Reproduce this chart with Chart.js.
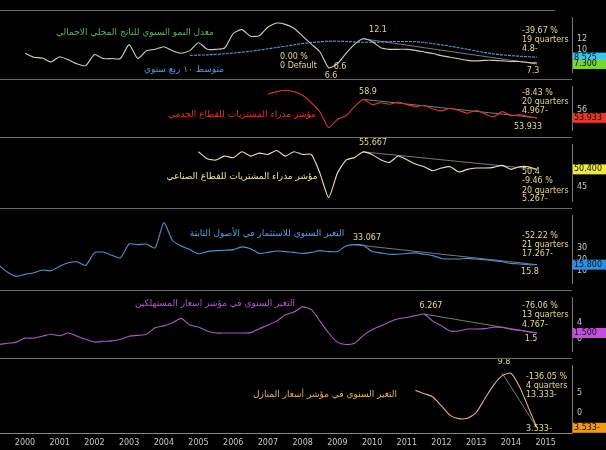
<!DOCTYPE html>
<html><head><meta charset="utf-8">
<script src="https://cdn.jsdelivr.net/npm/chart.js@4/dist/chart.umd.min.js"></script>
<style>
body{margin:0;background:#000;width:606px;height:450px;overflow:hidden;position:relative;font-family:"DejaVu Sans",sans-serif}
.p{position:absolute;left:0;width:606px}
.sep{position:absolute;left:0;width:572px;height:1px;background:#6a6a6a}
</style></head><body>
<div class="sep" style="top:10px;width:555px"></div>
<div class="sep" style="top:79px"></div>
<div class="sep" style="top:137px"></div>
<div class="sep" style="top:208px"></div>
<div class="sep" style="top:290px"></div>
<div class="sep" style="top:358px"></div>
<div class="p" style="top:11px;height:68px"><canvas id="c1"></canvas></div>
<div class="p" style="top:80px;height:57px"><canvas id="c2"></canvas></div>
<div class="p" style="top:138px;height:70px"><canvas id="c3"></canvas></div>
<div class="p" style="top:209px;height:81px"><canvas id="c4"></canvas></div>
<div class="p" style="top:291px;height:67px"><canvas id="c5"></canvas></div>
<div class="p" style="top:359px;height:91px"><canvas id="c6"></canvas></div>
<script>
// quarterly series, each with its first quarter (decimal year)
var years = [2000,2001,2002,2003,2004,2005,2006,2007,2008,2009,2010,2011,2012,2013,2014,2015];

var gdpStart = 2000.0;
var gdp = [9.35,8.6,8.45,7.7,8.7,8.1,7.35,7.0,9.1,8.35,8.35,8.35,11.0,8.35,9.85,10.1,10.6,9.85,9.35,9.85,
  11.35,10.1,10.1,10.35,13.1,13.85,12.6,12.7,14.35,15.1,14.85,14.1,12.6,11.1,9.6,6.6,
  7.35,9.35,11.1,12.1,11.6,10.4,10.1,10.1,10.1,9.9,9.6,9.3,8.9,8.6,8.3,8.0,7.9,8.0,8.0,7.9,7.8,7.8,7.6,7.5];
var gdpAvgStart = 2004.75;
var gdpAvg = [8.95,9.0,9.05,9.15,9.25,9.4,9.55,9.75,9.95,10.2,10.45,10.7,10.95,11.2,11.4,11.55,11.65,11.65,11.6,11.5,
  11.45,11.45,11.5,11.55,11.6,11.6,11.55,11.4,11.2,10.95,10.7,10.4,10.1,9.8,9.5,9.25,9.05,8.9,8.8,8.7,8.6];
var pmiSvcStart = 2007.0;
var pmiSvc = [60.3,61.0,61.3,61.0,60.0,58.0,55.5,51.3,53.5,54.5,57.0,58.9,57.5,58.0,57.6,58.2,57.5,57.0,57.3,56.3,
  55.8,56.5,55.9,55.2,55.9,55.0,54.2,55.6,54.5,54.8,54.3,53.933];
var pmiMfgStart = 2005.0;
var pmiMfg = [55.7,53.6,53.2,54.4,53.9,55.7,54.4,55.3,54.9,56.1,54.4,55.7,54.9,54.9,49.2,41.9,49.2,53.2,54.0,55.667,
  54.9,53.3,52.5,54.4,53.3,52.0,51.2,50.0,50.8,51.2,49.6,50.4,50.8,50.8,51.0,51.6,50.4,51.2,51.2,50.4];
var faiStart = 1999.25;
var fai = [15.2,9.3,5.7,7.4,8.8,11.2,10.5,14.5,17.4,18.3,15.2,26.0,26.7,24.0,21.7,33.6,33.1,33.6,30.2,52.1,
  36.7,31.9,28.8,25.2,27.1,27.9,28.3,28.8,31.2,29.5,25.5,26.4,27.6,27.1,26.4,25.5,26.4,27.9,27.1,27.1,
  31.9,33.067,32.5,27.1,26.0,24.8,24.8,25.5,26.0,24.8,23.6,21.2,20.7,20.7,21.2,20.7,20.0,19.3,18.3,16.9,16.4,15.7,15.8];
var cpiStart = 1999.25;
var cpi = [-1.4,-1.1,-0.8,0.2,0.2,0.7,1.2,0.8,1.5,0.7,-0.1,-0.8,-0.6,-0.5,-0.1,0.7,0.9,1.2,2.8,3.3,
  4.1,5.2,3.5,3.0,2.0,1.5,1.5,1.5,1.5,1.6,2.6,3.5,4.5,6.1,6.8,8.1,7.4,4.5,1.5,-0.8,
  -1.4,-1.1,0.9,2.3,3.3,4.3,5.1,5.4,5.9,6.267,4.5,3.3,2.0,2.0,2.5,2.5,2.6,2.95,2.9,2.4,2.2,1.8,1.5];
var houseStart = 2011.25;
var house = [5.6,4.8,4.0,1.8,-0.5,-1.3,-1.2,0.2,3.6,6.9,9.2,9.8,6.5,1.5,-3.533];

function pts(start, arr) { return arr.map(function (v, i) { return { x: start + i * 0.25, y: v }; }); }
function trend(x1, y1, x2, y2) { return [{ x: x1, y: y1 }, { x: x2, y: y2 }]; }

var XMIN = 1999.28, XMAX = 2015.76;
var NOTE = '#e6d98c';

var panels = [
  { id: 'c1', min: 5.75, max: 16.1, ticks: [10, 12],
    series: [{ d: pts(gdpStart, gdp), c: '#cfcdb8' }, { d: pts(gdpAvgStart, gdpAvg), c: '#5b9bd0', dash: [3, 1] },
      { d: trend(2009.75, 12.1, 2014.75, 7.3), c: '#9a9a9a', w: 0.8 }],
    boxes: [{ v: 8.525, t: '8.525', bg: '#35c8ea' }, { v: 7.3, t: '7.300', bg: '#74d43e' }],
    texts: [
      { t: 'معدل النمو السنوي للناتج المحلي الاجمالي', x: 135, y: 22, c: '#5fb060', f: 9 },
      { t: 'متوسط ١٠ ربع سنوي', x: 184, y: 59, c: '#4f9ae0', f: 9 },
      { t: '0.00 %', x: 280, y: 46, c: NOTE, a: 'left' }, { t: '0 Default', x: 280, y: 55, c: NOTE, a: 'left' },
      { t: '6.6', x: 340, y: 56, c: NOTE }, { t: '6.6', x: 331, y: 65, c: NOTE },
      { t: '12.1', x: 378, y: 19, c: NOTE },
      { t: '-39.67 %', x: 522, y: 20, c: NOTE, a: 'left' }, { t: '19 quarters', x: 522, y: 29, c: NOTE, a: 'left' },
      { t: '4.8-', x: 522, y: 38, c: NOTE, a: 'left' }, { t: '7.3', x: 533, y: 60, c: NOTE }] },
  { id: 'c2', min: 50.6, max: 62.3, ticks: [56],
    series: [{ d: pts(pmiSvcStart, pmiSvc), c: '#d23a30' }, { d: trend(2009.75, 58.9, 2014.75, 53.933), c: '#9a9a9a', w: 0.8 }],
    boxes: [{ v: 53.933, t: '53.933', bg: '#e03a2a' }],
    texts: [
      { t: 'مؤشر مدراء المشتريات للقطاع الخدمي', x: 242, y: 35, c: '#d8382c', f: 9 },
      { t: '58.9', x: 368, y: 12, c: NOTE },
      { t: '-8.43 %', x: 522, y: 13, c: NOTE, a: 'left' }, { t: '20 quarters', x: 522, y: 22, c: NOTE, a: 'left' },
      { t: '4.967-', x: 522, y: 31, c: NOTE, a: 'left' }, { t: '53.933', x: 528, y: 47, c: NOTE }] },
  { id: 'c3', min: 40.8, max: 57.8, ticks: [45],
    series: [{ d: pts(pmiMfgStart, pmiMfg), c: '#ebe3b8' }, { d: trend(2009.75, 55.667, 2014.75, 50.4), c: '#9a9a9a', w: 0.8 }],
    boxes: [{ v: 50.4, t: '50.400', bg: '#f0ec3a' }],
    texts: [
      { t: 'مؤشر مدراء المشتريات للقطاع الصناعي', x: 242, y: 39, c: '#ece49a', f: 9 },
      { t: '55.667', x: 373, y: 5, c: NOTE },
      { t: '50.4', x: 522, y: 34, c: NOTE, a: 'left' }, { t: '-9.46 %', x: 522, y: 43, c: NOTE, a: 'left' },
      { t: '20 quarters', x: 522, y: 53, c: NOTE, a: 'left' }, { t: '5.267-', x: 522, y: 61, c: NOTE, a: 'left' }] },
  { id: 'c4', min: -0.2, max: 58, ticks: [10, 20, 30],
    series: [{ d: pts(faiStart, fai), c: '#4f94cc' }, { d: trend(2009.5, 33.067, 2014.75, 15.8), c: '#9a9a9a', w: 0.8 }],
    boxes: [{ v: 15.8, t: '15.800', bg: '#2f8ee0' }],
    texts: [
      { t: 'التغير السنوي للاستثمار في الأصول الثابتة', x: 267, y: 25, c: '#4fa0e0', f: 9 },
      { t: '33.067', x: 367, y: 29, c: NOTE },
      { t: '-52.22 %', x: 522, y: 27, c: NOTE, a: 'left' }, { t: '21 quarters', x: 522, y: 36, c: NOTE, a: 'left' },
      { t: '17.267-', x: 522, y: 45, c: NOTE, a: 'left' }, { t: '15.8', x: 530, y: 63, c: NOTE }] },
  { id: 'c5', min: -3.1, max: 10.4, ticks: [0, 4],
    series: [{ d: pts(cpiStart, cpi), c: '#a85cc0' }, { d: trend(2011.5, 6.267, 2014.75, 1.5), c: '#9a9a9a', w: 0.8 }],
    boxes: [{ v: 1.5, t: '1.500', bg: '#c050e0' }],
    texts: [
      { t: 'التغير السنوي في مؤشر اسعار المستهلكين', x: 215, y: 13, c: '#b058c8', f: 9 },
      { t: '6.267', x: 431, y: 15, c: NOTE },
      { t: '-76.06 %', x: 522, y: 15, c: NOTE, a: 'left' }, { t: '13 quarters', x: 522, y: 24, c: NOTE, a: 'left' },
      { t: '4.767-', x: 522, y: 34, c: NOTE, a: 'left' }, { t: '1.5', x: 531, y: 48, c: NOTE }] },
  { id: 'c6', min: -4.9, max: 11.6, ticks: [0, 5], xaxis: true,
    series: [{ d: pts(houseStart, house), c: '#d8b078' }, { d: trend(2013.75, 9.8, 2014.75, -3.533), c: '#9a9a9a', w: 0.8 }],
    boxes: [{ v: -3.533, t: '3.533-', bg: '#f09a1a' }],
    texts: [
      { t: 'التغير السنوي في مؤشر أسعار المنازل', x: 325, y: 36, c: '#e0b060', f: 9 },
      { t: '9.8', x: 504, y: 3, c: NOTE },
      { t: '-136.05 %', x: 526, y: 18, c: NOTE, a: 'left' }, { t: '4 quarters', x: 526, y: 27, c: NOTE, a: 'left' },
      { t: '13.333-', x: 526, y: 36, c: NOTE, a: 'left' }, { t: '3.533-', x: 526, y: 70, c: NOTE, a: 'left' }] }
];

var overlay = {
  id: 'overlay',
  afterDraw: function (chart) {
    var p = chart.options.plugins.overlay, ctx = chart.ctx, ys = chart.scales.y;
    ctx.save();
    ctx.textBaseline = 'middle';
    p.texts.forEach(function (t) {
      ctx.font = (t.f || 8) + 'px "DejaVu Sans"';
      ctx.fillStyle = t.c;
      ctx.textAlign = t.a || 'center';
      ctx.fillText(t.t, t.x, t.y);
    });
    p.boxes.forEach(function (b) {
      var y = ys.getPixelForValue(b.v);
      ctx.fillStyle = b.bg;
      ctx.fillRect(573, y - 5, 33, 10);
      ctx.fillStyle = '#101010';
      ctx.font = '8px "DejaVu Sans"';
      ctx.textAlign = 'left';
      ctx.fillText(b.t, 574, y);
    });
    ctx.restore();
  }
};

panels.forEach(function (p) {
  new Chart(document.getElementById(p.id), {
    type: 'line',
    data: { datasets: p.series.map(function (s) {
      return { data: s.d, borderColor: s.c, borderWidth: s.w || 1.1, borderDash: s.dash || [], pointRadius: 0, tension: 0.2 };
    }) },
    options: {
      animation: false, responsive: true, maintainAspectRatio: false,
      layout: { padding: 0 },
      plugins: { legend: { display: false }, tooltip: { enabled: false }, overlay: { texts: p.texts, boxes: p.boxes } },
      scales: {
        x: { type: 'linear', min: XMIN, max: XMAX, display: !!p.xaxis,
          afterBuildTicks: function (s) { s.ticks = years.map(function (v) { return { value: v }; }); },
          grid: { display: false, drawTicks: true, tickLength: 3, color: '#888' },
          border: { color: '#888' },
          ticks: { color: '#c8c8c8', font: { size: 8, family: 'DejaVu Sans' }, maxRotation: 0, autoSkip: false, padding: 2,
            callback: function (v) { return String(v); } } },
        y: { position: 'right', min: p.min, max: p.max,
          afterBuildTicks: function (s) { s.ticks = p.ticks.map(function (v) { return { value: v }; }); },
          afterFit: function (s) { s.width = 34; },
          grid: { display: false, tickLength: 3, color: '#888' },
          border: { color: '#777' },
          ticks: { color: '#c8c8c8', font: { size: 8, family: 'DejaVu Sans' }, padding: 2 } }
      }
    },
    plugins: [overlay]
  });
});
</script>
</body></html>
